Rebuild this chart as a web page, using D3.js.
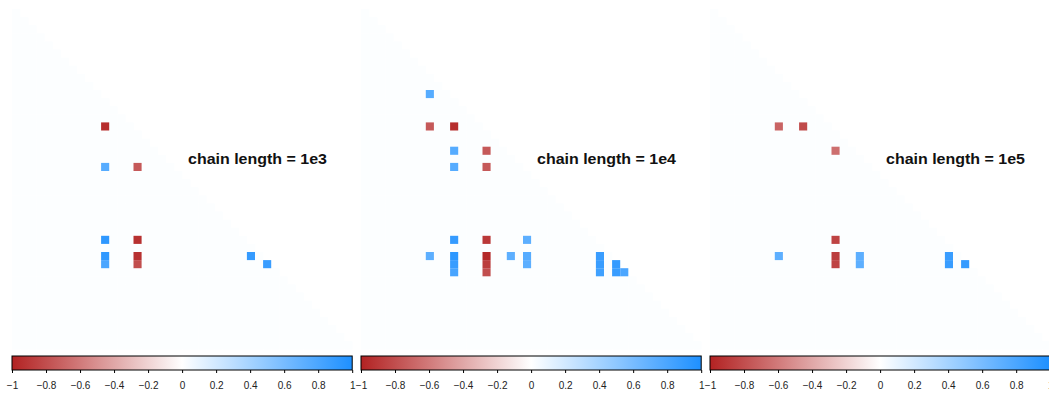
<!DOCTYPE html>
<html>
<head>
<meta charset="utf-8">
<script src="https://cdn.jsdelivr.net/npm/d3@7"></script>
<style>
  body { margin: 0; background: #fff; }
  svg { display: block; font-family: "Liberation Sans", Arial, Helvetica, sans-serif; }
</style>
</head>
<body>
<script>
// number of parameters in each correlation matrix
const nParams = 42;
const chainLengths = ["1e3", "1e4", "1e5"];

// significant correlations: [row, col, value]
const sigCells1e3 = [
  [14, 11, -0.95], [19, 11, 0.75], [19, 15, -0.75],
  [28, 11, 0.93], [28, 15, -0.93],
  [30, 11, 0.92], [31, 11, 0.8], [30, 15, -0.93], [31, 15, -0.8],
  [30, 29, 0.9], [31, 31, 0.88]
];
const sigCells1e4 = [
  [10, 8, 0.75], [14, 8, -0.75], [14, 11, -0.95],
  [17, 11, 0.75], [17, 15, -0.75], [19, 11, 0.75], [19, 15, -0.75],
  [28, 11, 0.9], [28, 15, -0.9], [28, 20, 0.72],
  [30, 8, 0.72], [30, 11, 0.93], [31, 11, 0.88], [32, 11, 0.82],
  [30, 15, -0.97], [31, 15, -0.88], [32, 15, -0.8],
  [30, 18, 0.72], [30, 20, 0.75], [31, 20, 0.72],
  [30, 29, 0.88], [31, 29, 0.88], [32, 29, 0.85],
  [31, 31, 0.9], [32, 31, 0.88], [32, 32, 0.8]
];
const sigCells1e5 = [
  [14, 8, -0.7], [14, 11, -0.82], [17, 15, -0.65],
  [28, 15, -0.85],
  [30, 8, 0.72], [30, 15, -0.88], [31, 15, -0.85],
  [30, 18, 0.72], [31, 18, 0.72],
  [30, 29, 0.88], [31, 29, 0.88], [31, 31, 0.9]
];
const panelCells = [sigCells1e3, sigCells1e4, sigCells1e5];

// non significant cells are shown at (almost) zero
const blankValue = 0.012;
const colorTicks = [-1, -0.8, -0.6, -0.4, -0.2, 0, 0.2, 0.4, 0.6, 0.8, 1];

const width = 1049, height = 393;
const panelLeft = [12, 361, 710];
const panelSize = 340.2;
const matrixTop = 9;
const barTop = 356, barHeight = 14;

const color = d3.scaleLinear()
  .domain([-1, 0, 1])
  .range(["#b22222", "#ffffff", "#1e90ff"]);

const svg = d3.select("body").append("svg")
  .attr("width", width)
  .attr("height", height)
  .attr("viewBox", `0 0 ${width} ${height}`);

const grad = svg.append("defs").append("linearGradient")
  .attr("id", "corrGrad");
grad.selectAll("stop")
  .data(d3.range(-1, 1.0001, 0.1))
  .join("stop")
  .attr("offset", d => `${(d + 1) * 50}%`)
  .attr("stop-color", d => color(d));

const lowerTri = [];
d3.range(nParams).forEach(i => d3.range(i + 1).forEach(j => lowerTri.push([i, j])));

panelCells.forEach((cells, p) => {
  const x0 = panelLeft[p];
  const x = d3.scaleBand().domain(d3.range(nParams)).range([x0, x0 + panelSize]);
  const y = d3.scaleBand().domain(d3.range(nParams)).range([matrixTop, matrixTop + panelSize]);

  const g = svg.append("g");

  g.append("g").selectAll("rect")
    .data(lowerTri)
    .join("rect")
    .attr("x", d => x(d[1]))
    .attr("y", d => y(d[0]))
    .attr("width", x.bandwidth() + 0.3)
    .attr("height", y.bandwidth() + 0.3)
    .attr("fill", color(blankValue));

  g.append("g").selectAll("rect")
    .data(cells)
    .join("rect")
    .attr("x", d => x(d[1]))
    .attr("y", d => y(d[0]))
    .attr("width", x.bandwidth())
    .attr("height", y.bandwidth())
    .attr("fill", d => color(d[2]));

  g.append("text")
    .attr("x", x0 + 176)
    .attr("y", 164)
    .attr("font-size", 14)
    .attr("font-weight", "bold")
    .attr("fill", "#111")
    .attr("textLength", 139)
    .attr("lengthAdjust", "spacingAndGlyphs")
    .text(`chain length = ${chainLengths[p]}`);

  // colour key
  const k = d3.scaleLinear().domain([-1, 1]).range([x0, x0 + panelSize]);
  g.append("rect")
    .attr("x", x0)
    .attr("y", barTop)
    .attr("width", panelSize)
    .attr("height", barHeight)
    .attr("fill", "url(#corrGrad)")
    .attr("stroke", "#000")
    .attr("stroke-width", 1);

  g.append("g")
    .attr("transform", `translate(0,${barTop + barHeight})`)
    .call(d3.axisBottom(k)
      .tickValues(colorTicks)
      .tickSize(3)
      .tickPadding(9)
      .tickFormat(d3.format("")))
    .call(a => a.select(".domain").remove())
    .call(a => a.selectAll("text")
      .attr("font-size", 10)
      .attr("font-family", "\"Liberation Sans\", Arial, sans-serif")
      .attr("fill", "#222"));
});
</script>
</body>
</html>
